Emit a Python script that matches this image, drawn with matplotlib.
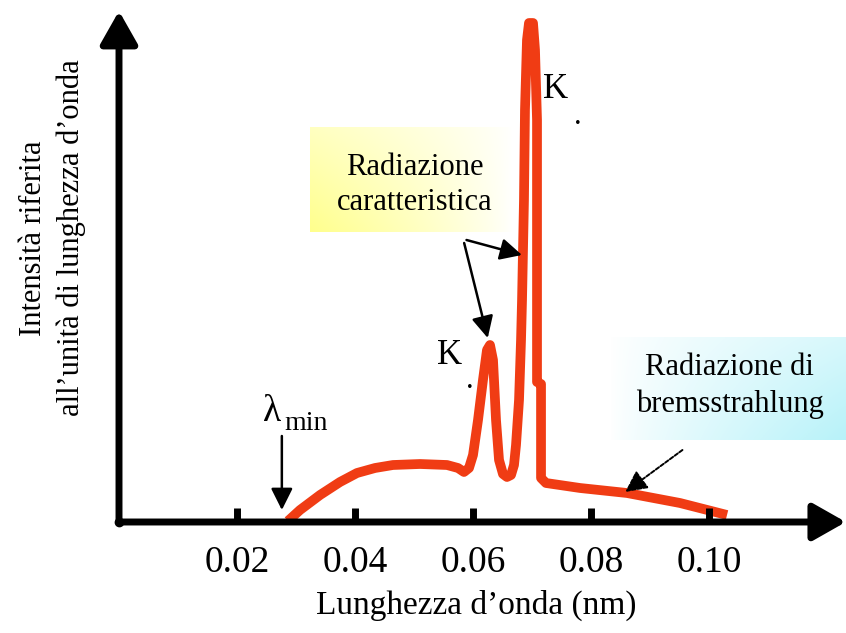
import numpy as np
import matplotlib.pyplot as plt

# spectrum (wavelength in nm, intensity in arbitrary units)
wavelength = [0.02864, 0.03068, 0.03407, 0.03746, 0.04034, 0.04339, 0.04644, 0.05102,
              0.05559, 0.05746, 0.05847, 0.05932, 0.06000, 0.06085, 0.06169, 0.06237,
              0.06288, 0.06339, 0.06390, 0.06441, 0.06508, 0.06576, 0.06644, 0.06695,
              0.06729, 0.06780, 0.06814, 0.06831, 0.06864, 0.06881, 0.06915, 0.06949,
              0.07017, 0.07051, 0.07085, 0.07085, 0.07153, 0.07153, 0.07237, 0.07814,
              0.08610, 0.09508, 0.10305]
intensity = [0.01, 0.12, 0.27, 0.40, 0.49, 0.54, 0.57, 0.58,
             0.57, 0.54, 0.50, 0.54, 0.67, 1.02, 1.42, 1.72,
             1.77, 1.62, 1.02, 0.62, 0.48, 0.45, 0.47, 0.57,
             0.77, 1.22, 1.82, 2.22, 3.22, 4.12, 4.82, 4.99,
             4.99, 4.72, 4.02, 1.40, 1.38, 0.44, 0.39, 0.34,
             0.29, 0.19, 0.07]

xticks = [0.02, 0.04, 0.06, 0.08, 0.10]
xticklabels = ['0.02', '0.04', '0.06', '0.08', '0.10']

serif = 'Liberation Serif'
red = '#f03c14'

fig = plt.figure(figsize=(8.46, 6.33), dpi=100)
ax = fig.add_axes([0, 0, 1, 1])
ax.set_xlim(-0.02017, 0.12322)
ax.set_ylim(-1.11, 5.22)
ax.axis('off')


def gradient_box(x0, x1, y0, y1, rgb, from_left):
    n = 200
    t = np.linspace(0, 1, n)
    gx = 1 - (t if from_left else t[::-1])
    gy = np.linspace(1, 0.55, 60)[:, None]
    a = np.clip(gx[None, :] ** 0.8 * gy, 0, 1)
    img = np.zeros((60, n, 4))
    img[..., 0] = rgb[0]
    img[..., 1] = rgb[1]
    img[..., 2] = rgb[2]
    img[..., 3] = a
    ax.imshow(img, extent=[x0, x1, y0, y1], origin='lower', aspect='auto', zorder=0)


# background boxes behind the labels
gradient_box(0.0324, 0.0668, 2.90, 3.95, (1.0, 1.0, 0.55), True)
gradient_box(0.0832, 0.1232, 0.82, 1.85, (0.72, 0.95, 0.98), False)

# spectrum
ax.plot(wavelength, intensity, color=red, lw=7, solid_joinstyle='round',
        solid_capstyle='butt', zorder=3)

# axes with arrows
head = '-|>,head_length=0.67,head_width=0.38'
ax.annotate('', xy=(0.1232, 0), xytext=(0, 0),
            arrowprops=dict(arrowstyle=head, lw=5, color='k', mutation_scale=30,
                            shrinkA=0, shrinkB=0), zorder=4)
ax.annotate('', xy=(0, 5.11), xytext=(0, 0),
            arrowprops=dict(arrowstyle=head, lw=5, color='k', mutation_scale=30,
                            shrinkA=0, shrinkB=0), zorder=4)
ax.plot([0], [0], 'o', color='k', ms=6, zorder=4)

for xt, lab in zip(xticks, xticklabels):
    ax.plot([xt, xt], [0, 0.14], color='k', lw=5, solid_capstyle='butt', zorder=4)
    ax.text(xt, -0.41, lab, ha='center', va='center', fontsize=27, family=serif)

ax.text(0.0605, -0.83, "Lunghezza d\u2019onda (nm)", ha='center', va='center',
        fontsize=24, family=serif)
ax.text(-0.0113, 2.84, "Intensit\u00e0 riferita\nall\u2019unit\u00e0 di lunghezza d\u2019onda",
        ha='center', va='center', rotation=90, fontsize=22, family=serif,
        linespacing=1.35)

# labels
ax.text(0.0502, 3.37, 'Radiazione\ncaratteristica', ha='center', va='center',
        fontsize=22, family=serif, linespacing=1.3)
ax.text(0.1035, 1.36, 'Radiazione di\nbremsstrahlung', ha='center', va='center',
        fontsize=22, family=serif, linespacing=1.3)

ax.text(0.0560, 1.67, 'K', ha='center', va='center', fontsize=25, family=serif)
ax.text(0.0595, 1.42, '.', ha='center', va='center', fontsize=22, family=serif)
ax.text(0.0740, 4.32, 'K', ha='center', va='center', fontsize=25, family=serif)
ax.text(0.0778, 4.06, '.', ha='center', va='center', fontsize=22, family=serif)

ax.text(0.0259, 1.10, '\u03bb', ha='center', va='center', fontsize=27, family=serif)
ax.text(0.0281, 0.99, 'min', ha='left', va='center', fontsize=20, family=serif)

# arrows
akw = dict(arrowstyle='-|>,head_length=0.6,head_width=0.3', color='k', lw=1.8,
           mutation_scale=22, shrinkA=0, shrinkB=0)
ax.annotate('', xy=(0.0276, 0.12), xytext=(0.0276, 0.86), arrowprops=akw)
ax.annotate('', xy=(0.0625, 1.84), xytext=(0.0585, 2.79), arrowprops=akw)
ax.annotate('', xy=(0.0683, 2.67), xytext=(0.0589, 2.82), arrowprops=akw)
ax.annotate('', xy=(0.0858, 0.30), xytext=(0.0955, 0.72),
            arrowprops=dict(akw, lw=1.4, linestyle=(0, (2, 1))))

fig.savefig('out.png', dpi=100)
